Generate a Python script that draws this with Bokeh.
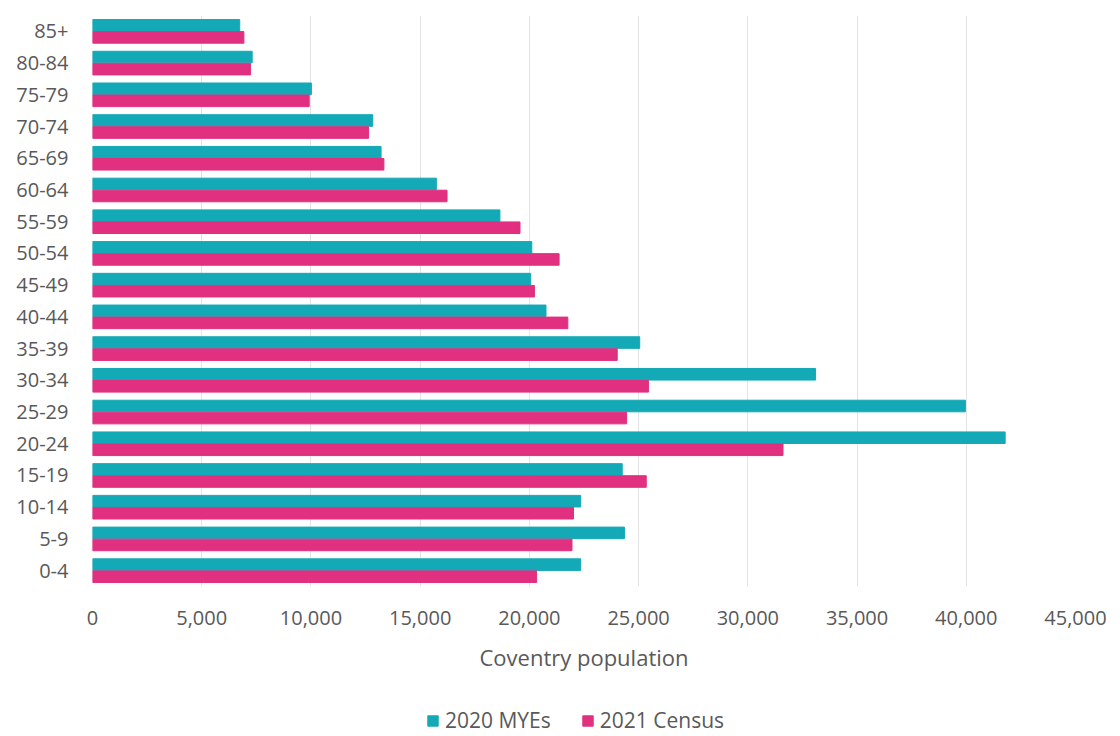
from bokeh.plotting import figure
from bokeh.layouts import column
from bokeh.models import FactorRange, Legend, LegendItem, NumeralTickFormatter, FixedTicker
from bokeh.transform import dodge
from bokeh.embed import file_html
from bokeh.resources import INLINE

# Age bands, youngest first (drawn bottom-up)
age_bands = ["0-4", "5-9", "10-14", "15-19", "20-24", "25-29", "30-34", "35-39",
             "40-44", "45-49", "50-54", "55-59", "60-64", "65-69", "70-74",
             "75-79", "80-84", "85+"]

# Population by age band
mye_2020 = [22350, 24350, 22350, 24250, 41780, 39960, 33100, 25050,
            20760, 20060, 20110, 18650, 15740, 13210, 12830, 10020, 7310, 6740]
census_2021 = [20330, 21950, 22020, 25350, 31610, 24450, 25450, 24020,
               21760, 20230, 21360, 19570, 16230, 13340, 12640, 9920, 7230, 6930]

x_ticks = [0, 5000, 10000, 15000, 20000, 25000, 30000, 35000, 40000, 45000]

TEAL = "#14A9B6"
PINK = "#E0307F"
TEXT = "#595959"
FONT = "Open Sans"

source = dict(age=age_bands, mye=mye_2020, census=census_2021)


def add_bars(fig, visible=True):
    r1 = fig.hbar(y=dodge("age", 0.19, range=fig.y_range), right="mye", left=0,
                  height=0.365, color=TEAL, source=source, visible=visible)
    r2 = fig.hbar(y=dodge("age", -0.19, range=fig.y_range), right="census", left=0,
                  height=0.365, color=PINK, source=source, visible=visible)
    return r1, r2


# Main chart
p = figure(
    width=1120, height=676,
    y_range=FactorRange(factors=age_bands),
    x_range=(0, 45000),
    output_backend="svg", toolbar_location=None,
    min_border_left=92, min_border_right=45,
    min_border_top=15, min_border_bottom=90,
)
add_bars(p)

p.outline_line_color = None
p.ygrid.grid_line_color = None
p.xgrid.grid_line_color = "#e3e3e3"
p.xgrid.grid_line_width = 1
p.xgrid.level = "underlay"

p.xaxis.ticker = FixedTicker(ticks=x_ticks)
p.xaxis.formatter = NumeralTickFormatter(format="0,0")
p.xaxis.axis_label = "Coventry population"

for ax in (p.xaxis[0], p.yaxis[0]):
    ax.axis_line_color = None
    ax.major_tick_line_color = None
    ax.minor_tick_line_color = None
    ax.major_label_text_color = TEXT
    ax.major_label_text_font = FONT
    ax.major_label_text_font_size = "20px"

p.xaxis.major_label_standoff = 18
p.yaxis.major_label_standoff = 18
p.xaxis.axis_label_text_font = FONT
p.xaxis.axis_label_text_font_size = "22px"
p.xaxis.axis_label_text_font_style = "normal"
p.xaxis.axis_label_text_color = TEXT
p.xaxis.axis_label_standoff = 14

# Legend strip under the chart (its frame lines up with the chart's frame)
leg_fig = figure(
    width=1120, height=60,
    y_range=FactorRange(factors=age_bands), x_range=(0, 45000),
    x_axis_type=None, y_axis_type=None,
    output_backend="svg", toolbar_location=None,
    min_border_left=0, min_border_right=0, min_border_top=0, min_border_bottom=0,
)
leg_fig.outline_line_color = None
leg_fig.xgrid.visible = False
leg_fig.ygrid.visible = False
l_mye, l_cen = add_bars(leg_fig, visible=False)

legend = Legend(
    items=[LegendItem(label="2020 MYEs", renderers=[l_mye]),
           LegendItem(label="2021 Census", renderers=[l_cen])],
    orientation="horizontal", location=(334, 2),
    label_text_font=FONT, label_text_font_size="21px", label_text_color=TEXT,
    glyph_width=13, glyph_height=13, label_standoff=6, spacing=30,
    border_line_color=None, background_fill_alpha=0,
    margin=0, padding=0,
)
leg_fig.add_layout(legend, "center")

layout = column(p, leg_fig, spacing=0)

open("out.html", "w").write(file_html(layout, INLINE))
